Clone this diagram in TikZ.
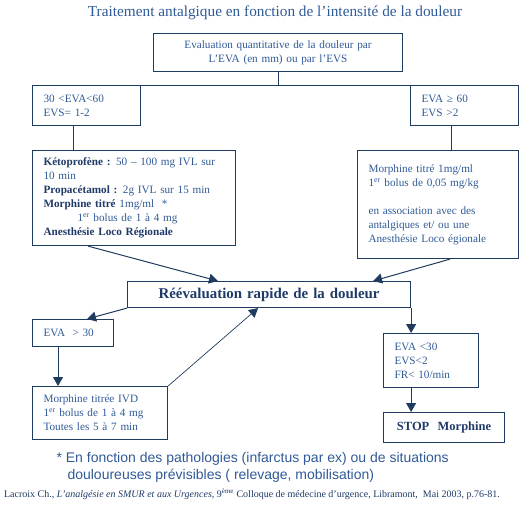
\documentclass[tikz,border=0pt]{standalone}
\usepackage{fontspec}
\setmainfont{Liberation Serif}
\setsansfont{Liberation Sans}
\usetikzlibrary{arrows.meta}
\definecolor{boxline}{HTML}{1F3B60}
\definecolor{txtblue}{HTML}{2F5A96}
\definecolor{boldblue}{HTML}{1F3A68}
\newcommand{\hb}[1]{\textcolor{boldblue}{\textbf{#1}}}
\tikzset{
  box/.style={draw=boxline, line width=1.1pt, anchor=north west, inner xsep=11pt,
    align=left, text=txtblue, font=\fontsize{11.2}{14}\selectfont},
  link/.style={draw=boxline, line width=1pt},
  arr/.style={link, -{Triangle[length=9pt,width=10pt]}}
}
\begin{document}
\begin{tikzpicture}[x=1pt,y=-1pt]
\useasboundingbox (0,0) rectangle (521,506);
\node[text=txtblue, font=\fontsize{15.3}{18}\selectfont] (title) at (275,13) {Traitement antalgique en fonction de l’intensité de la douleur};
\node[box, align=center, minimum width=249pt, minimum height=38pt, text width=227pt] (eval) at (153,33) {Evaluation quantitative de la douleur par\\L’EVA (en mm) ou par l’EVS};
\node[box, minimum width=108pt, minimum height=40pt, text width=86pt] (lo1) at (32,85) {30 <EVA<60\\EVS= 1-2};
\node[box, minimum width=108pt, minimum height=40pt, text width=86pt] (hi1) at (410,85) {EVA ≥ 60\\EVS >2};
\node[box, minimum width=203pt, minimum height=95pt, text width=181pt] (lo2) at (32,150) {\hb{Kétoprofène :} 50 – 100 mg IVL sur\\10 min\\\hb{Propacétamol :} 2g IVL sur 15 min\\\hb{Morphine titré} 1mg/ml~~*\\\hspace*{34pt}1\textsuperscript{er} bolus de 1 à 4 mg\\\hb{Anesthésie Loco Régionale}};
\node[box, minimum width=161pt, minimum height=108pt, text width=139pt] (hi2) at (357,150) {Morphine titré 1mg/ml\\1\textsuperscript{er} bolus de 0,05 mg/kg\\[14pt]en association avec des\\antalgiques et/ ou une\\Anesthésie Loco égionale\\[2pt]};
\node[box, align=center, minimum width=283pt, minimum height=26pt, text width=261pt, font=\fontsize{14.9}{16}\selectfont] (reev) at (127,281) {\hb{Réévaluation rapide de la douleur}};
\node[box, minimum width=81pt, minimum height=27pt, text width=59pt] (eva30) at (32,319) {EVA~~> 30};
\node[box, minimum width=135pt, minimum height=53pt, text width=113pt] (morph) at (32,386) {Morphine titrée IVD\\1\textsuperscript{er} bolus de 1 à 4 mg\\Toutes les 5 à 7 min};
\node[box, minimum width=95pt, minimum height=54pt, text width=73pt] (lowp) at (383,333) {EVA <30\\EVS<2\\FR< 10/min};
\node[box, align=center, minimum width=121pt, minimum height=30pt, text width=99pt, font=\fontsize{12.5}{14}\selectfont] (stop) at (383,412) {\hb{STOP~~Morphine}};
\node[anchor=north west, align=left, text=txtblue, font=\sffamily\fontsize{14}{16.5}\selectfont] (note) at (53,449) {*~En fonction des pathologies (infarctus par ex) ou de situations\\\hspace*{11pt}douloureuses prévisibles ( relevage, mobilisation)};
\node[text=boldblue, font=\fontsize{10}{11}\selectfont] (src) at (252,494) {Lacroix Ch., \textit{L’analgésie en SMUR et aux Urgences,} 9\textsuperscript{ème} Colloque de médecine d’urgence, Libramont,~~Mai 2003, p.76-81.};
% connectors
\draw[link] (eval.south) -- (eval.south |- lo1.north);
\draw[link] (lo1.north east) -- (hi1.north west);
\draw[link] ([xshift=-13pt]lo1.south) -- ([xshift=-13pt]lo1.south |- lo2.north);
\draw[link] ([xshift=-13pt]hi1.south) -- ([xshift=-13pt]hi1.south |- hi2.north);
\draw[arr] ([xshift=56pt]lo2.south west) -- ([xshift=91pt]reev.north west);
\draw[arr] ([xshift=93pt]hi2.south west) -- ([xshift=-38pt]reev.north east);
\draw[arr] (reev.south west) -- ([xshift=55pt]eva30.north west);
\draw[arr] ([xshift=26pt]eva30.south west) -- ([xshift=26pt]morph.north west);
\draw[arr, line width=0.7pt] (morph.north east) -- ([xshift=131pt]reev.south west);
\draw[arr] (reev.south east) -- (reev.south east |- lowp.north);
\draw[arr] (reev.south east |- lowp.south) -- (reev.south east |- stop.north);
\end{tikzpicture}
\end{document}
